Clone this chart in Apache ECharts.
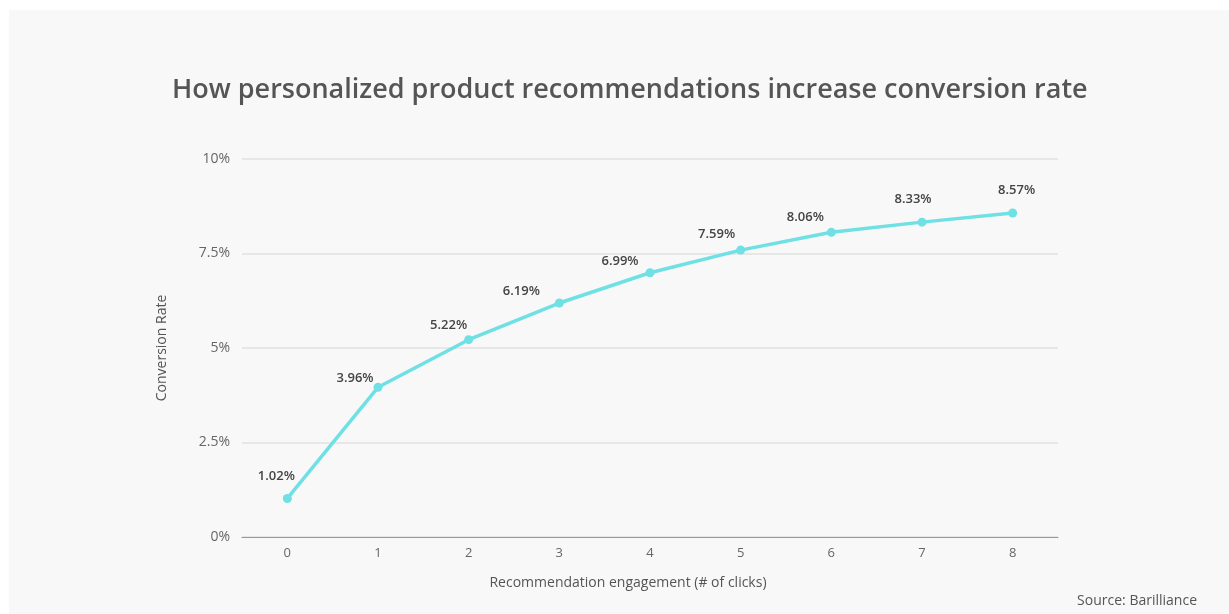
<!DOCTYPE html>
<html>
<head>
<meta charset="utf-8">
<script src="https://cdn.jsdelivr.net/npm/echarts@6/dist/echarts.min.js"></script>
<style>
  html, body { margin: 0; padding: 0; background: #ffffff; }
  #chart { width: 1229px; height: 614px; }
</style>
</head>
<body>
<div id="chart"></div>
<script>
// datos del grafico
const clicks = ['0', '1', '2', '3', '4', '5', '6', '7', '8'];
const conversion = [1.02, 3.96, 5.22, 6.19, 6.99, 7.59, 8.06, 8.33, 8.57];
const yTicks = [0, 2.5, 5, 7.5, 10];

// pequeños ajustes de las etiquetas para que no choquen con la linea
const labelShift = [
  [-11, -6], [-23, 7], [-20, 2], [-38, 4], [-30, 5],
  [-24, 0], [-26, 1], [-9, -7], [4, -7]
];

const fuente = "'Open Sans', 'Noto Sans', sans-serif";

const chart = echarts.init(document.getElementById('chart'));

const puntos = conversion.map((v, i) => ({
  value: v,
  label: { offset: labelShift[i] }
}));

const option = {
  backgroundColor: '#ffffff',
  textStyle: { fontFamily: fuente },
  graphic: [
    {
      type: 'rect',
      z: -10,
      shape: { x: 9, y: 10, width: 1220, height: 604 },
      style: { fill: '#f8f8f8' }
    },
    {
      type: 'text',
      right: 32,
      top: 594,
      style: {
        text: 'Source: Barilliance',
        fill: '#555',
        font: "14px 'Open Sans', sans-serif"
      }
    }
  ],
  title: {
    text: 'How personalized product recommendations increase conversion rate',
    left: 167,
    top: 72,
    textStyle: {
      fontSize: 27,
      fontWeight: 600,
      color: '#555',
      fontFamily: fuente
    }
  },
  grid: { left: 242, right: 171, top: 159, bottom: 77 },
  xAxis: {
    type: 'category',
    data: clicks,
    name: 'Recommendation engagement (# of clicks)',
    nameLocation: 'middle',
    nameGap: 39,
    nameTextStyle: { color: '#555', fontSize: 14, padding: [0, 44, 0, 0] },
    axisLine: { lineStyle: { color: '#999', width: 1 } },
    axisTick: { show: false },
    axisLabel: { color: '#666', fontSize: 13, margin: 10 }
  },
  yAxis: {
    type: 'value',
    min: yTicks[0],
    max: yTicks[yTicks.length - 1],
    interval: 2.5,
    name: 'Conversion Rate',
    nameLocation: 'middle',
    nameGap: 73,
    nameTextStyle: { color: '#555', fontSize: 14 },
    axisLine: { show: false },
    axisTick: { show: false },
    axisLabel: {
      color: '#666',
      fontSize: 14,
      margin: 12,
      formatter: v => v + '%'
    },
    splitLine: { lineStyle: { color: '#e2e2e2', width: 1.5 } }
  },
  series: [{
    type: 'line',
    data: puntos,
    symbol: 'circle',
    symbolSize: 9,
    lineStyle: { color: '#6fe0e4', width: 3.5 },
    itemStyle: { color: '#6fe0e4' },
    label: {
      show: true,
      position: 'top',
      distance: 5,
      color: '#444',
      fontSize: 13,
      fontWeight: 600,
      formatter: p => p.value.toFixed(2) + '%'
    }
  }]
};

chart.setOption(option);
</script>
</body>
</html>
